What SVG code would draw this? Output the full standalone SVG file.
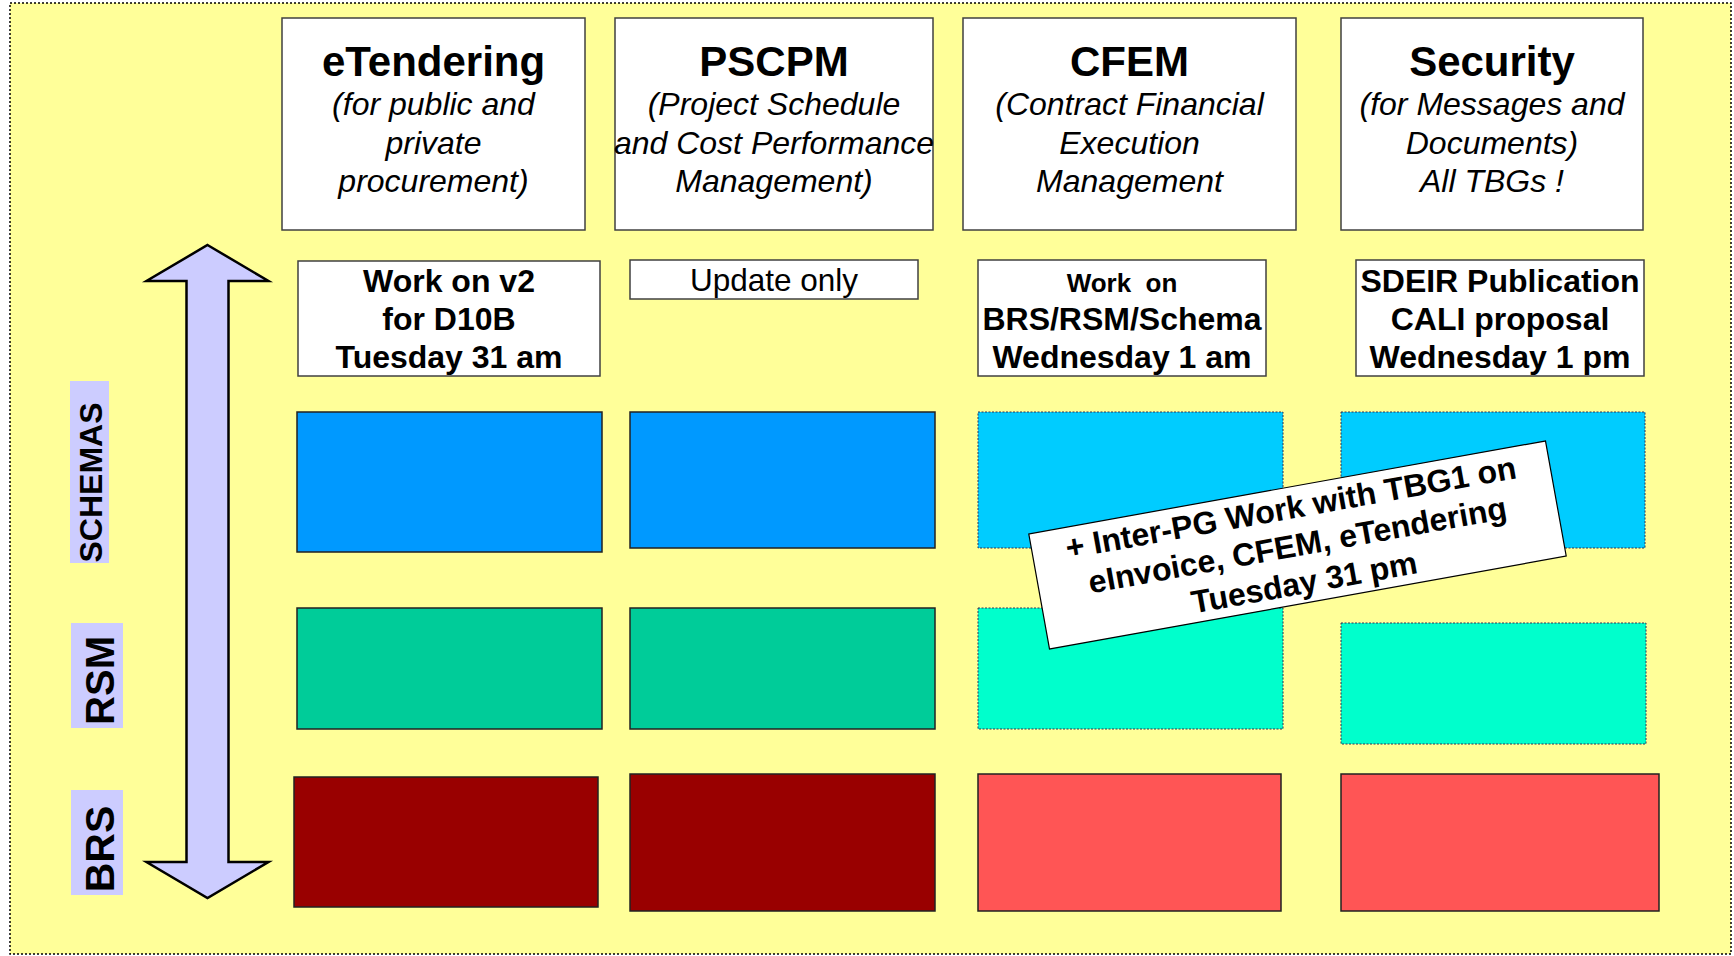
<svg xmlns="http://www.w3.org/2000/svg" width="1734" height="956" viewBox="0 0 1734 956">
<style>
.t{font-family:"Liberation Sans",Arial,Helvetica,sans-serif;fill:#000;text-anchor:middle}
.title{font-size:42px;font-weight:bold}
.it{font-size:32px;font-style:italic}
.b{font-size:32px;font-weight:bold}
.r{font-size:31.5px}
.box{fill:#fff;stroke:#404040;stroke-width:1.5}
.solid{stroke:#222;stroke-width:1.5}
.dot{stroke:#335;stroke-width:1;stroke-dasharray:2,1.5}
.sch1{fill:#0099FF}
.rsm1{fill:#00CC99}
.brs1{fill:#990000}
.sch2{fill:#00CCFF}
.rsm2{fill:#00FFCC}
.brs2{fill:#FF5555}
.lab{fill:#CCCCFF}
</style>
<rect x="0" y="0" width="1734" height="956" fill="#fff"/>
<rect id="frame" x="10" y="3" width="1721" height="951" fill="#FFFF99" stroke="#000" stroke-width="1.5" stroke-dasharray="2,2"/>

<g id="connectors">
<polygon points="207.5,245 268.5,281 228.5,281 228.5,862 268.5,862 207.5,898 146.5,862 186.5,862 186.5,281 146.5,281" fill="#CCCCFF" stroke="#000" stroke-width="2.5" stroke-linejoin="miter"/>
</g>

<g id="label-schemas">
<rect class="lab" x="70" y="381" width="39" height="182"/>
<text class="t b" transform="translate(102,482.5) rotate(-90)">SCHEMAS</text>
</g>
<g id="label-rsm">
<rect class="lab" x="71" y="623" width="52" height="105"/>
<text class="t" font-size="40" font-weight="bold" transform="translate(114,680.5) rotate(-90)">RSM</text>
</g>
<g id="label-brs">
<rect class="lab" x="71" y="790" width="52" height="105"/>
<text class="t" font-size="41" font-weight="bold" transform="translate(114,849) rotate(-90)">BRS</text>
</g>

<g id="etendering">
<rect class="box" x="282" y="18" width="303" height="212"/>
<text class="t title" x="433.5" y="76">eTendering</text>
<text class="t it" x="433.5" y="115">(for public and</text>
<text class="t it" x="433.5" y="154">private</text>
<text class="t it" x="433.5" y="192">procurement)</text>
</g>
<g id="pscpm">
<rect class="box" x="615" y="18" width="318" height="212"/>
<text class="t title" x="774" y="76">PSCPM</text>
<text class="t it" x="774" y="115">(Project Schedule</text>
<text class="t it" x="774" y="154">and Cost Performance</text>
<text class="t it" x="774" y="192">Management)</text>
</g>
<g id="cfem">
<rect class="box" x="963" y="18" width="333" height="212"/>
<text class="t title" x="1129.5" y="76">CFEM</text>
<text class="t it" x="1129.5" y="115">(Contract Financial</text>
<text class="t it" x="1129.5" y="154">Execution</text>
<text class="t it" x="1129.5" y="192">Management</text>
</g>
<g id="security">
<rect class="box" x="1341" y="18" width="302" height="212"/>
<text class="t title" x="1492" y="76">Security</text>
<text class="t it" x="1492" y="115">(for Messages and</text>
<text class="t it" x="1492" y="154">Documents)</text>
<text class="t it" x="1492" y="192">All TBGs !</text>
</g>

<g id="etendering-work">
<rect class="box" x="298" y="261" width="302" height="115"/>
<text class="t b" x="449" y="292">Work on v2</text>
<text class="t b" x="449" y="330">for D10B</text>
<text class="t b" x="449" y="368">Tuesday 31 am</text>
</g>
<g id="pscpm-work">
<rect class="box" x="630" y="260" width="288" height="39"/>
<text class="t r" x="774" y="291">Update only</text>
</g>
<g id="cfem-work">
<rect class="box" x="978" y="260" width="288" height="116"/>
<text class="t" font-size="26" font-weight="bold" x="1122" y="292" xml:space="preserve">Work  on</text>
<text class="t b" x="1122" y="330">BRS/RSM/Schema</text>
<text class="t b" x="1122" y="368">Wednesday 1 am</text>
</g>
<g id="security-work">
<rect class="box" x="1356" y="260" width="288" height="116"/>
<text class="t b" x="1500" y="292">SDEIR Publication</text>
<text class="t b" x="1500" y="330">CALI proposal</text>
<text class="t b" x="1500" y="368">Wednesday 1 pm</text>
</g>

<g id="etendering-schemas"><rect class="sch1 solid" x="297" y="412" width="305" height="140"/></g>
<g id="etendering-rsm"><rect class="rsm1 solid" x="297" y="608" width="305" height="121"/></g>
<g id="etendering-brs"><rect class="brs1 solid" x="294" y="777" width="304" height="130"/></g>

<g id="pscpm-schemas"><rect class="sch1 solid" x="630" y="412" width="305" height="136"/></g>
<g id="pscpm-rsm"><rect class="rsm1 solid" x="630" y="608" width="305" height="121"/></g>
<g id="pscpm-brs"><rect class="brs1 solid" x="630" y="774" width="305" height="137"/></g>

<g id="cfem-schemas"><rect class="sch2 dot" x="978" y="412" width="305" height="136"/></g>
<g id="cfem-rsm"><rect class="rsm2 dot" x="978" y="608" width="305" height="121"/></g>
<g id="cfem-brs"><rect class="brs2 solid" x="978" y="774" width="303" height="137"/></g>

<g id="security-schemas"><rect class="sch2 dot" x="1341" y="412" width="304" height="136"/></g>
<g id="security-rsm"><rect class="rsm2 dot" x="1341" y="623" width="305" height="121"/></g>
<g id="security-brs"><rect class="brs2 solid" x="1341" y="774" width="318" height="137"/></g>

<g id="inter-pg" transform="translate(1297.5,545) rotate(-10.2)">
<rect x="-262.5" y="-58.5" width="525" height="117" fill="#fff" stroke="#000" stroke-width="1.2"/>
<text class="t b" x="0" y="-27">+ Inter-PG Work with TBG1 on</text>
<text class="t b" x="0" y="11">eInvoice, CFEM, eTendering</text>
<text class="t b" x="0" y="49">Tuesday 31 pm</text>
</g>
</svg>
